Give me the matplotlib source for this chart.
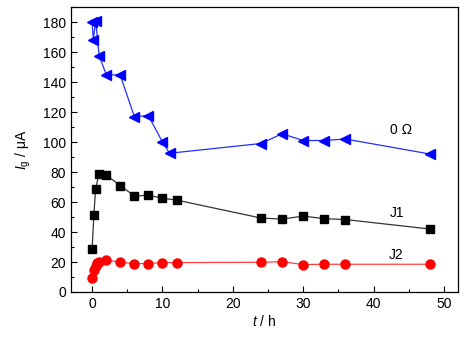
import matplotlib.pyplot as plt
from matplotlib.ticker import MultipleLocator

plt.rcParams['font.family'] = ['Liberation Sans', 'DejaVu Sans']
plt.rcParams['mathtext.fontset'] = 'custom'
plt.rcParams['mathtext.it'] = 'Liberation Sans:italic'
plt.rcParams['mathtext.rm'] = 'Liberation Sans'

# Data
t_0ohm = [0, 0.17, 0.5, 1, 2, 4, 6, 8, 10, 11, 24, 27, 30, 33, 36, 48]
ig_0ohm = [180, 168, 181, 157.5, 145, 144.5, 117, 117.5, 100, 92.5, 99, 105.5, 101, 101, 102, 92]

t_j1 = [0, 0.25, 0.5, 1, 2, 4, 6, 8, 10, 12, 24, 27, 30, 33, 36, 48]
ig_j1 = [28.5, 51.5, 69, 79, 78, 71, 64, 64.5, 62.5, 61.3, 49.3, 48.6, 50.6, 48.9, 48.3, 42]

t_j2 = [0, 0.25, 0.5, 0.75, 1, 2, 4, 6, 8, 10, 12, 24, 27, 30, 33, 36, 48]
ig_j2 = [9.6, 14.7, 17.4, 19.2, 20.3, 21.4, 19.8, 18.9, 19, 19.6, 19.6, 19.8, 20.2, 18.3, 18.5, 18.5, 18.5]

fig = plt.figure(figsize=(4.69, 3.42), dpi=100)
ax = fig.add_axes([0.1514, 0.1462, 0.8251, 0.8333])

ax.plot(t_0ohm, ig_0ohm, color='#2030ff', lw=0.9, marker='<', ms=7.5, mec='blue', mfc='blue')
ax.plot(t_j1, ig_j1, color='#333333', lw=0.9, marker='s', ms=6, mec='black', mfc='black')
ax.plot(t_j2, ig_j2, color='#ff4040', lw=0.9, marker='o', ms=6.5, mec='red', mfc='red')

ax.text(43.9, 108, '0 Ω', ha='center', va='center', fontsize=10)
ax.text(43.4, 53, 'J1', ha='center', va='center', fontsize=10)
ax.text(43.2, 25, 'J2', ha='center', va='center', fontsize=10)

ax.set_xlim(-3, 52)
ax.set_ylim(0, 190)
ax.xaxis.set_major_locator(MultipleLocator(10))
ax.xaxis.set_minor_locator(MultipleLocator(5))
ax.yaxis.set_major_locator(MultipleLocator(20))
ax.yaxis.set_minor_locator(MultipleLocator(10))
ax.tick_params(which='both', direction='in', labelsize=10, width=0.8)
ax.tick_params(which='major', length=4)
ax.tick_params(which='minor', length=2.5)
for s in ax.spines.values():
    s.set_linewidth(0.9)

ax.set_xlabel('$t$ / h', fontsize=10, labelpad=2)
ax.set_ylabel('$I_{\\mathrm{g}}$ / μA', fontsize=10, labelpad=7)

fig.savefig('out.png', dpi=100)
